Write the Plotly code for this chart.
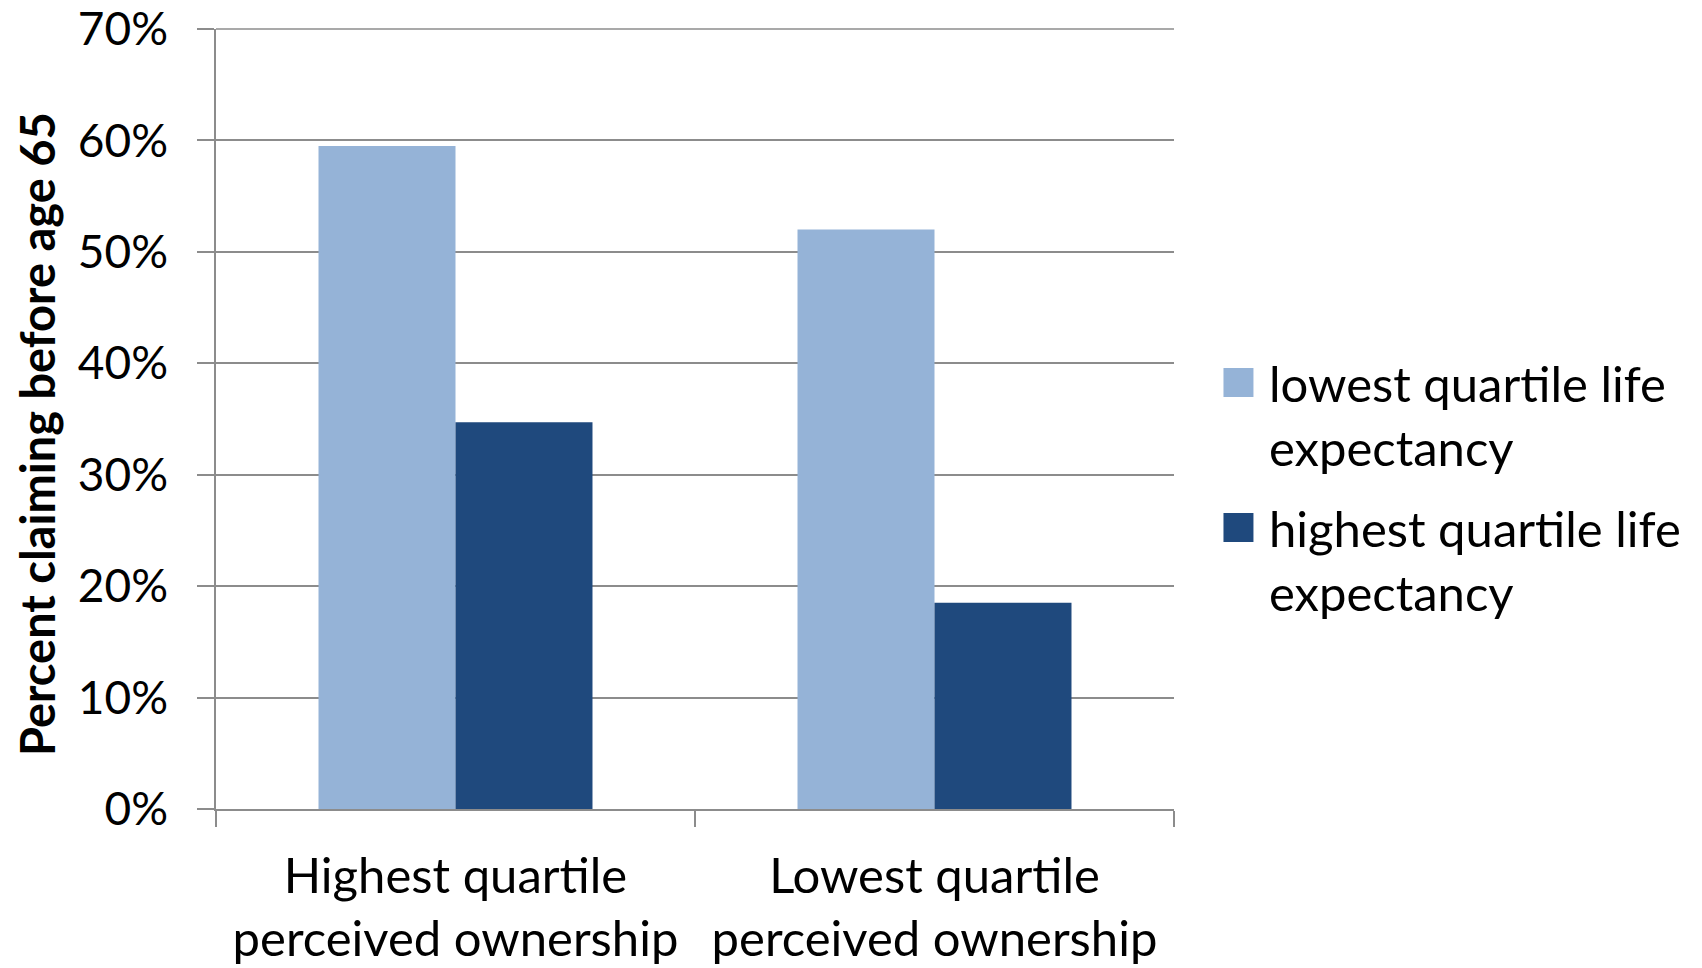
import plotly.graph_objects as go

categories = ["Highest quartile<br>perceived ownership", "Lowest quartile<br>perceived ownership"]
series_names = ["lowest quartile life expectancy", "highest quartile life expectancy"]
legend_lines = [["lowest quartile life", "expectancy"], ["highest quartile life", "expectancy"]]
lowest_le = [0.595, 0.520]
highest_le = [0.347, 0.185]
colors = ["#95B3D7", "#1F497D"]
y_ticks = [0, 0.1, 0.2, 0.3, 0.4, 0.5, 0.6, 0.7]
y_title = "Percent claiming before age 65"

W, H = 1702, 968
L, R, T, B = 216, 1174.5, 29, 809
FONT = "Lato"
GRID = "#8C8C8C"

fig = go.Figure()
for name, vals, col in zip(series_names, [lowest_le, highest_le], colors):
    fig.add_trace(go.Bar(x=categories, y=vals, name=name, marker=dict(color=col, line=dict(width=0)),
                         showlegend=False))

def px_x(x):
    return (x - L) / (R - L)

def px_y(y):
    return (B - y) / (B - T)

shapes = [dict(type="line", xref="paper", yref="paper", x0=0, x1=1, y0=1, y1=1,
               line=dict(color=GRID, width=1.5))]
annotations = []
sq = [(1224, 368, 414.7), (1224, 513, 560)]
for (sx, sy, cy), col, lines in zip(sq, colors, legend_lines):
    shapes.append(dict(type="rect", xref="paper", yref="paper", x0=px_x(sx), x1=px_x(sx + 30),
                       y0=px_y(sy + 29), y1=px_y(sy), fillcolor=col, line=dict(width=0)))
    annotations.append(dict(xref="paper", yref="paper", x=px_x(1268), y=px_y(cy),
                            xanchor="left", yanchor="middle", align="left", showarrow=False,
                            text="<br>".join(lines), font=dict(family=FONT, size=49, color="black")))

annotations.append(dict(xref="paper", yref="paper", x=px_x(37), y=px_y(434), xanchor="center",
                        yanchor="middle", textangle=-90, showarrow=False, text="<b>" + y_title + "</b>",
                        font=dict(family=FONT, size=47, color="black")))

fig.update_layout(
    width=W, height=H,
    margin=dict(l=L, r=W - R, t=T, b=H - B, pad=0, autoexpand=False),
    plot_bgcolor="white", paper_bgcolor="white",
    barmode="group", bargap=0.428, bargroupgap=0,
    showlegend=False,
    font=dict(family=FONT, size=46, color="black"),
    shapes=shapes, annotations=annotations,
    xaxis=dict(type="category", showline=True, linecolor=GRID, linewidth=1.5, automargin=False,
               ticks="outside", tickson="boundaries", ticklen=16, tickcolor=GRID, tickwidth=1.5,
               tickfont=dict(family=FONT, size=49, color="black"), ticklabelstandoff=23,
               showgrid=False),
    yaxis=dict(range=[0, 0.7], tickvals=y_ticks, tickformat=".0%", showline=True, linecolor=GRID,
               linewidth=1.5, ticks="outside", ticklen=17, tickcolor=GRID, tickwidth=1.5, automargin=False,
               gridcolor=GRID, gridwidth=1.5, zeroline=False,
               tickfont=dict(family=FONT, size=46, color="black"), ticklabelstandoff=20),
)

fig.write_html("out.html")
